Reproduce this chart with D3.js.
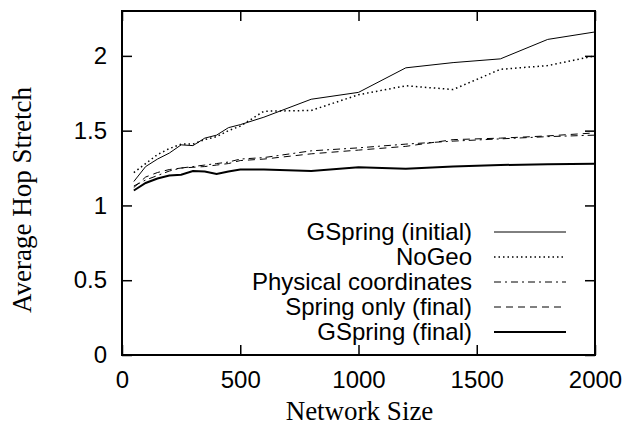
<!DOCTYPE html>
<html lang="en">
<head>
    <meta charset="UTF-8">
    <title>Average Hop Stretch</title>
    <script src="https://cdn.jsdelivr.net/npm/d3@7/dist/d3.min.js"></script>
    <style>
        html, body { margin: 0; padding: 0; background: #fff; overflow: hidden; }
        svg { display: block; }
        .tick text { font-family: "Liberation Sans", Arial, sans-serif; font-size: 24px; fill: #000; }
        .ttl { font-family: "Liberation Serif", "Times New Roman", serif; font-size: 27px; fill: #000; }
        .leg { font-family: "Liberation Sans", Arial, sans-serif; font-size: 24px; fill: #000; }
    </style>
</head>
<body>
    <svg width="631" height="430" id="mainsvg"></svg>
    <script>
        const sizes = [50, 100, 150, 200, 250, 300, 350, 400, 450, 500, 600, 800, 1000, 1200, 1400, 1600, 1800, 2000]
        const gspringInitial = [1.16, 1.26, 1.31, 1.35, 1.405, 1.40, 1.45, 1.47, 1.52, 1.54, 1.59, 1.71, 1.756, 1.92, 1.955, 1.98, 2.11, 2.16]
        const noGeo = [1.22, 1.28, 1.34, 1.38, 1.41, 1.41, 1.44, 1.46, 1.50, 1.53, 1.63, 1.635, 1.74, 1.80, 1.775, 1.91, 1.935, 2.00]
        const physical = [1.13, 1.17, 1.20, 1.23, 1.25, 1.26, 1.27, 1.28, 1.29, 1.31, 1.32, 1.365, 1.385, 1.41, 1.43, 1.445, 1.46, 1.47]
        const springOnly = [1.12, 1.19, 1.22, 1.24, 1.25, 1.255, 1.26, 1.27, 1.28, 1.30, 1.31, 1.345, 1.37, 1.395, 1.44, 1.45, 1.465, 1.485]
        const gspringFinal = [1.10, 1.15, 1.18, 1.20, 1.205, 1.23, 1.227, 1.21, 1.227, 1.24, 1.24, 1.231, 1.256, 1.245, 1.26, 1.27, 1.276, 1.278]
        const xTicks = [0, 500, 1000, 1500, 2000]
        const yTicks = [0, 0.5, 1, 1.5, 2]

        const series = [
            {name: 'GSpring (initial)', values: gspringInitial, width: 1, dash: null},
            {name: 'NoGeo', values: noGeo, width: 1.5, dash: '1.5,3'},
            {name: 'Physical coordinates', values: physical, width: 1, dash: '7,4,2,4'},
            {name: 'Spring only (final)', values: springOnly, width: 1, dash: '7,5'},
            {name: 'GSpring (final)', values: gspringFinal, width: 2, dash: null}
        ]

        const svg = d3.select('#mainsvg')
        const margin = {top: 11, right: 36, bottom: 75, left: 122}
        const innerWidth = +svg.attr('width') - margin.left - margin.right
        const innerHeight = +svg.attr('height') - margin.top - margin.bottom
        const g = svg.append('g').attr('transform', `translate(${margin.left},${margin.top})`)

        const xScale = d3.scaleLinear().domain([0, 2000]).range([0, innerWidth])
        const yScale = d3.scaleLinear().domain([0, 2.3]).range([innerHeight, 0])

        // ticks point inward, mirrored on all four sides
        const styleAxis = sel => {
            sel.select('.domain').remove()
            sel.selectAll('.tick line').attr('stroke', '#000').attr('stroke-width', 1.5)
        }
        const mirror = sel => {
            styleAxis(sel)
            sel.selectAll('.tick text').remove()
        }
        g.append('g').attr('transform', `translate(0,${innerHeight})`)
            .call(d3.axisBottom(xScale).tickValues(xTicks).tickSize(-10).tickPadding(16).tickFormat(d3.format('d')))
            .call(styleAxis)
        g.append('g')
            .call(d3.axisTop(xScale).tickValues(xTicks).tickSize(-10))
            .call(mirror)
        g.append('g')
            .call(d3.axisLeft(yScale).tickValues(yTicks).tickSize(-10).tickPadding(15).tickFormat(d => d))
            .call(styleAxis)
        g.append('g').attr('transform', `translate(${innerWidth},0)`)
            .call(d3.axisRight(yScale).tickValues(yTicks).tickSize(-10))
            .call(mirror)
        g.selectAll('.tick text').attr('fill', '#000')

        const line = d3.line()
            .x((d, i) => xScale(sizes[i]))
            .y(d => yScale(d))

        series.forEach(s => {
            g.append('path').datum(s.values)
                .attr('fill', 'none')
                .attr('stroke', '#000')
                .attr('stroke-width', s.width)
                .attr('stroke-dasharray', s.dash)
                .attr('d', line)
        })

        g.append('rect')
            .attr('width', innerWidth).attr('height', innerHeight)
            .attr('fill', 'none').attr('stroke', '#000').attr('stroke-width', 2)

        // legend
        const legend = g.append('g').attr('transform', `translate(${innerWidth - 101},${221})`)
        series.forEach((s, i) => {
            const row = legend.append('g').attr('transform', `translate(0,${i * 25})`)
            row.append('text').attr('class', 'leg')
                .attr('x', -22).attr('y', 8).attr('text-anchor', 'end').text(s.name)
            row.append('line').attr('x1', 0).attr('x2', 72)
                .attr('stroke', '#000').attr('stroke-width', s.width)
                .attr('stroke-dasharray', s.dash)
        })

        svg.append('text').attr('class', 'ttl')
            .attr('x', margin.left + innerWidth / 2 + 1).attr('y', 420)
            .attr('text-anchor', 'middle').text('Network Size')
        svg.append('text').attr('class', 'ttl')
            .attr('transform', `translate(31,200) rotate(-90)`)
            .attr('text-anchor', 'middle').text('Average Hop Stretch')
    </script>
</body>
</html>
